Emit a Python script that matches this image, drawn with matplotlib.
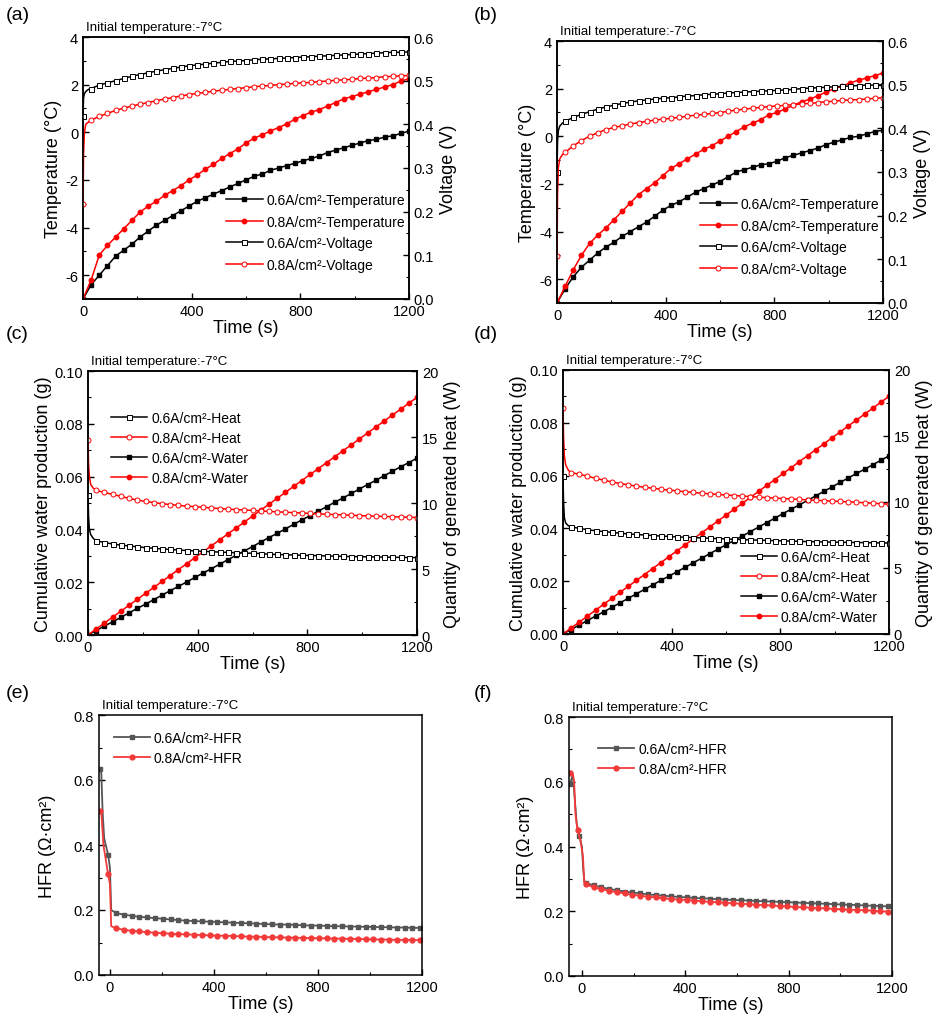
import matplotlib
matplotlib.use("Agg")
import matplotlib.pyplot as plt
from matplotlib.ticker import MultipleLocator

plt.rcParams['font.family'] = ['Liberation Sans', 'DejaVu Sans']
plt.rcParams['axes.unicode_minus'] = False

# ---------------- data ----------------
t30 = [0, 30, 60, 90, 120, 150, 180, 210, 240, 270, 300, 330, 360, 390, 420, 450, 480, 510, 540,
       570, 600, 630, 660, 690, 720, 750, 780, 810, 840, 870, 900, 930, 960, 990, 1020, 1050, 1080,
       1110, 1140, 1170, 1200]
t_fast = [0, 2, 5, 10, 20] + t30[1:]

# (a)
a_T06 = [-7.0, -6.4, -6.0, -5.6, -5.2, -4.95, -4.7, -4.4, -4.15, -3.9, -3.7, -3.5, -3.3, -3.1, -2.9,
         -2.75, -2.6, -2.45, -2.3, -2.15, -2.0, -1.85, -1.75, -1.6, -1.5, -1.4, -1.3, -1.2, -1.1, -1.0,
         -0.85, -0.75, -0.65, -0.55, -0.45, -0.35, -0.3, -0.2, -0.15, -0.05, 0.05]
a_T08 = [-7.0, -6.2, -5.15, -4.75, -4.4, -4.05, -3.7, -3.35, -3.1, -2.9, -2.65, -2.45, -2.25, -2.0,
         -1.8, -1.55, -1.35, -1.1, -0.9, -0.7, -0.45, -0.25, -0.1, 0.05, 0.2, 0.35, 0.55, 0.7, 0.85,
         0.95, 1.1, 1.25, 1.4, 1.5, 1.6, 1.7, 1.8, 1.9, 2.0, 2.15, 2.25]
a_V06 = [0.42, 0.46, 0.47, 0.475, 0.48, 0.482, 0.49, 0.495, 0.50, 0.505, 0.51, 0.514, 0.518, 0.522,
         0.525, 0.528, 0.531, 0.534, 0.536, 0.538, 0.540, 0.542, 0.544, 0.545, 0.546, 0.548, 0.549,
         0.550, 0.551, 0.552, 0.553, 0.554, 0.555, 0.556, 0.557, 0.558, 0.559, 0.560, 0.561, 0.562,
         0.563, 0.564, 0.565, 0.565, 0.566]
a_V08 = [0.217, 0.33, 0.38, 0.40, 0.405, 0.41, 0.418, 0.425, 0.432, 0.437, 0.442, 0.446, 0.450, 0.454,
         0.458, 0.461, 0.465, 0.468, 0.471, 0.473, 0.476, 0.478, 0.480, 0.482, 0.484, 0.486, 0.488,
         0.489, 0.491, 0.492, 0.494, 0.495, 0.496, 0.498, 0.499, 0.501, 0.502, 0.503, 0.505, 0.506,
         0.507, 0.509, 0.510, 0.511, 0.512]

# (b)
b_T06 = [-7.0, -6.4, -5.9, -5.5, -5.2, -4.9, -4.65, -4.45, -4.2, -4.0, -3.8, -3.6, -3.35, -3.1, -2.9,
         -2.75, -2.55, -2.35, -2.2, -2.05, -1.9, -1.7, -1.5, -1.4, -1.3, -1.2, -1.15, -1.05, -0.9, -0.8,
         -0.7, -0.6, -0.5, -0.35, -0.25, -0.15, -0.05, 0.0, 0.1, 0.2, 0.25]
b_T08 = [-7.0, -6.3, -5.6, -5.0, -4.5, -4.15, -3.85, -3.5, -3.15, -2.8, -2.45, -2.2, -1.95, -1.65,
         -1.35, -1.15, -0.95, -0.75, -0.55, -0.4, -0.2, 0.0, 0.2, 0.4, 0.55, 0.7, 0.9, 1.0, 1.15, 1.3,
         1.45, 1.55, 1.7, 1.85, 2.0, 2.1, 2.25, 2.35, 2.45, 2.55, 2.65]
b_V06 = [0.30, 0.37, 0.395, 0.405, 0.412, 0.416, 0.425, 0.432, 0.438, 0.444, 0.449, 0.453, 0.457,
         0.460, 0.463, 0.465, 0.467, 0.469, 0.470, 0.472, 0.474, 0.475, 0.477, 0.478, 0.479, 0.481,
         0.482, 0.483, 0.484, 0.485, 0.486, 0.487, 0.488, 0.489, 0.491, 0.492, 0.493, 0.494, 0.495,
         0.496, 0.497, 0.498, 0.499, 0.499, 0.500]
b_V08 = [0.107, 0.25, 0.31, 0.33, 0.34, 0.345, 0.36, 0.372, 0.382, 0.39, 0.397, 0.402, 0.406, 0.41,
         0.413, 0.416, 0.419, 0.421, 0.423, 0.425, 0.428, 0.430, 0.432, 0.434, 0.436, 0.439, 0.442,
         0.444, 0.446, 0.448, 0.450, 0.451, 0.453, 0.454, 0.456, 0.457, 0.459, 0.461, 0.462, 0.464,
         0.465, 0.466, 0.467, 0.469, 0.470]

# (c)
c_W06 = [0, 0.0017, 0.0034, 0.0050, 0.0067, 0.0084, 0.0101, 0.0117, 0.0134, 0.0151, 0.0168, 0.0184,
         0.0201, 0.0218, 0.0235, 0.0251, 0.0268, 0.0285, 0.0302, 0.0318, 0.0335, 0.0352, 0.0369,
         0.0385, 0.0402, 0.0419, 0.0436, 0.0452, 0.0469, 0.0486, 0.0503, 0.0519, 0.0536, 0.0553,
         0.0570, 0.0586, 0.0603, 0.0620, 0.0637, 0.0653, 0.0670]
c_W08 = [0, 0.0023, 0.0045, 0.0068, 0.0090, 0.0113, 0.0135, 0.0158, 0.0180, 0.0203, 0.0225, 0.0248,
         0.0270, 0.0293, 0.0315, 0.0338, 0.0360, 0.0383, 0.0405, 0.0428, 0.0450, 0.0473, 0.0495,
         0.0518, 0.0540, 0.0563, 0.0585, 0.0608, 0.0630, 0.0653, 0.0675, 0.0698, 0.0720, 0.0743,
         0.0765, 0.0788, 0.0810, 0.0833, 0.0855, 0.0878, 0.0900]
c_H06 = [10.6, 9.0, 8.0, 7.6, 7.3, 7.15, 7.0, 6.9, 6.8, 6.75, 6.68, 6.62, 6.57, 6.52, 6.48, 6.44, 6.4,
         6.37, 6.34, 6.31, 6.28, 6.26, 6.23, 6.21, 6.19, 6.17, 6.12, 6.10, 6.08, 6.06, 6.04, 6.02, 6.01,
         5.99, 5.97, 5.96, 5.94, 5.93, 5.92, 5.91, 5.90, 5.89, 5.88, 5.87, 5.86]
c_H08 = [14.8, 13.0, 12.0, 11.4, 11.1, 10.95, 10.8, 10.65, 10.5, 10.35, 10.22, 10.12, 10.03, 9.95,
         9.88, 9.82, 9.76, 9.72, 9.68, 9.62, 9.58, 9.54, 9.5, 9.47, 9.44, 9.4, 9.36, 9.33, 9.3, 9.27,
         9.24, 9.21, 9.18, 9.15, 9.12, 9.1, 9.07, 9.05, 9.02, 9.0, 8.98, 8.96, 8.94, 8.92, 8.9]

# (d)
d_W06 = [0, 0.0017, 0.0034, 0.0051, 0.0068, 0.0084, 0.0101, 0.0118, 0.0135, 0.0152, 0.0169, 0.0186,
         0.0203, 0.0219, 0.0236, 0.0253, 0.0270, 0.0287, 0.0304, 0.0321, 0.0338, 0.0354, 0.0371,
         0.0388, 0.0405, 0.0422, 0.0439, 0.0456, 0.0473, 0.0489, 0.0506, 0.0523, 0.0540, 0.0557,
         0.0574, 0.0591, 0.0608, 0.0624, 0.0641, 0.0658, 0.0675]
d_W08 = [0, 0.0023, 0.0045, 0.0068, 0.0090, 0.0113, 0.0135, 0.0158, 0.0180, 0.0203, 0.0225, 0.0248,
         0.0270, 0.0293, 0.0315, 0.0338, 0.0360, 0.0383, 0.0405, 0.0428, 0.0450, 0.0473, 0.0495,
         0.0518, 0.0540, 0.0563, 0.0585, 0.0608, 0.0630, 0.0653, 0.0675, 0.0698, 0.0720, 0.0743,
         0.0765, 0.0788, 0.0810, 0.0833, 0.0855, 0.0878, 0.0900]
d_H06 = [12.0, 10.0, 8.8, 8.4, 8.2, 8.12, 8.0, 7.9, 7.82, 7.76, 7.7, 7.64, 7.58, 7.54, 7.5, 7.46, 7.42,
         7.39, 7.36, 7.33, 7.3, 7.28, 7.25, 7.23, 7.2, 7.17, 7.15, 7.13, 7.11, 7.09, 7.07, 7.05, 7.04,
         7.02, 7.0, 6.99, 6.97, 6.96, 6.95, 6.94, 6.93, 6.92, 6.91, 6.9, 6.89]
d_H08 = [17.1, 15.0, 13.5, 12.8, 12.4, 12.23, 12.1, 11.95, 11.8, 11.65, 11.52, 11.4, 11.3, 11.2,
         11.12, 11.04, 10.97, 10.9, 10.84, 10.78, 10.72, 10.67, 10.62, 10.57, 10.53, 10.49, 10.45,
         10.41, 10.37, 10.33, 10.3, 10.26, 10.23, 10.2, 10.16, 10.13, 10.1, 10.07, 10.04, 10.01, 9.98,
         9.94, 9.91, 9.87, 9.83]

# (e)
e_t06 = [-37, -33, -28, -22, -7, 0, 5, 23, 53, 83, 113, 143, 173, 203, 233, 263, 293, 323, 353, 383,
         413, 443, 473, 503, 533, 563, 593, 623, 653, 683, 713, 743, 773, 803, 833, 863, 893, 923, 953,
         983, 1013, 1043, 1073, 1103, 1133, 1163, 1193]
e_H06 = [0.634, 0.62, 0.50, 0.42, 0.37, 0.33, 0.20, 0.191, 0.186, 0.182, 0.179, 0.177, 0.175, 0.173,
         0.171, 0.169, 0.167, 0.166, 0.165, 0.164, 0.163, 0.162, 0.161, 0.160, 0.159, 0.158, 0.157,
         0.156, 0.155, 0.155, 0.154, 0.153, 0.152, 0.152, 0.151, 0.150, 0.150, 0.149, 0.149, 0.148,
         0.148, 0.147, 0.147, 0.146, 0.146, 0.145, 0.145]
e_t08 = [-37, -33, -25, -7, 0, 5, 23, 53, 83, 113, 143, 173, 203, 233, 263, 293, 323, 353, 383, 413,
         443, 473, 503, 533, 563, 593, 623, 653, 683, 713, 743, 773, 803, 833, 863, 893, 923, 953, 983,
         1013, 1043, 1073, 1103, 1133, 1163, 1193]
e_H08 = [0.506, 0.50, 0.40, 0.31, 0.28, 0.15, 0.144, 0.139, 0.136, 0.134, 0.132, 0.130, 0.129, 0.127,
         0.126, 0.125, 0.124, 0.123, 0.122, 0.121, 0.121, 0.120, 0.119, 0.118, 0.118, 0.117, 0.116,
         0.116, 0.115, 0.115, 0.114, 0.114, 0.113, 0.113, 0.112, 0.112, 0.111, 0.111, 0.110, 0.110,
         0.109, 0.109, 0.108, 0.108, 0.108, 0.107]

# (f)
f_t06 = [-45, -40, -35, -28, -20, -10, 0, 5, 10, 15, 45, 75, 105, 135, 165, 195, 225, 255, 285, 315,
         345, 375, 405, 435, 465, 495, 525, 555, 585, 615, 645, 675, 705, 735, 765, 795, 825, 855, 885,
         915, 945, 975, 1005, 1035, 1065, 1095, 1125, 1155, 1185]
f_H06 = [0.592, 0.61, 0.62, 0.55, 0.47, 0.433, 0.40, 0.33, 0.29, 0.288, 0.280, 0.274, 0.269, 0.265,
         0.261, 0.258, 0.255, 0.252, 0.250, 0.248, 0.246, 0.244, 0.243, 0.241, 0.240, 0.239, 0.237,
         0.236, 0.235, 0.234, 0.233, 0.232, 0.231, 0.230, 0.229, 0.228, 0.227, 0.226, 0.225, 0.224,
         0.223, 0.222, 0.221, 0.220, 0.219, 0.218, 0.217, 0.216, 0.215]
f_t08 = [-45, -40, -35, -30, -25, -17, -6, 4, 9, 15, 45, 75, 105, 135, 165, 195, 225, 255, 285, 315,
         345, 375, 405, 435, 465, 495, 525, 555, 585, 615, 645, 675, 705, 735, 765, 795, 825, 855, 885,
         915, 945, 975, 1005, 1035, 1065, 1095, 1125, 1155, 1185]
f_H08 = [0.628, 0.632, 0.625, 0.60, 0.50, 0.45, 0.42, 0.37, 0.29, 0.283, 0.274, 0.268, 0.263, 0.259,
         0.255, 0.251, 0.248, 0.245, 0.243, 0.240, 0.238, 0.236, 0.235, 0.233, 0.231, 0.229, 0.228,
         0.226, 0.225, 0.223, 0.222, 0.220, 0.219, 0.218, 0.216, 0.215, 0.213, 0.212, 0.211, 0.210,
         0.209, 0.207, 0.206, 0.205, 0.204, 0.203, 0.202, 0.200, 0.199]

lab06 = '0.6A/cm\u00b2'
lab08 = '0.8A/cm\u00b2'
init_text = 'Initial temperature:-7\u00b0C'

# ---------------- layout ----------------
W, H = 939, 1020
fig = plt.figure(figsize=(W / 100, H / 100), dpi=100)


def rect(l, t, r, b):
    return [l / W, 1 - b / H, (r - l) / W, (b - t) / H]


RED = '#ff0000'
BLK = '#000000'
TICK_FS = 10.5
LAB_FS = 13
LEG_FS = 10
LW = 1.1
MS = 3.2


def style(ax, right=False):
    for s in ax.spines.values():
        s.set_linewidth(1.1)
    ax.tick_params(which='both', direction='in', labelsize=TICK_FS, top=False,
                   right=False, left=not right)
    if right:
        ax.tick_params(which='both', right=True, left=False, labelright=True, labelleft=False)
    ax.tick_params(which='major', length=4, width=1)
    ax.tick_params(which='minor', length=2.5, width=0.8)


def fast_marks(n):
    return [0] + list(range(5, n))


def temp_panel(l, t, r, b, T06, T08, V06, V08, leg_anchor):
    ax = fig.add_axes(rect(l, t, r, b))
    ax2 = ax.twinx()
    h1, = ax.plot(t30, T06, color=BLK, lw=LW, marker='s', ms=MS, mfc=BLK, mec=BLK)
    h2, = ax.plot(t30, T08, color=RED, lw=LW, marker='o', ms=MS, mfc=RED, mec=RED)
    h3, = ax2.plot(t_fast, V06, color=BLK, lw=LW, marker='s', ms=MS + 0.4, mfc='white', mec=BLK,
                   mew=0.7, markevery=fast_marks(len(t_fast)))
    h4, = ax2.plot(t_fast, V08, color=RED, lw=LW, marker='o', ms=MS + 0.4, mfc='white', mec=RED,
                   mew=0.7, markevery=fast_marks(len(t_fast)))
    ax.set_xlim(0, 1200)
    ax.set_ylim(-7, 4)
    ax2.set_ylim(0, 0.6)
    ax.xaxis.set_major_locator(MultipleLocator(400))
    ax.xaxis.set_minor_locator(MultipleLocator(200))
    ax.yaxis.set_major_locator(MultipleLocator(2))
    ax.yaxis.set_minor_locator(MultipleLocator(1))
    ax2.yaxis.set_major_locator(MultipleLocator(0.1))
    ax2.yaxis.set_minor_locator(MultipleLocator(0.05))
    style(ax)
    style(ax2, right=True)
    ax.set_xlabel('Time (s)', fontsize=LAB_FS, labelpad=1)
    ax.set_ylabel('Temperature (\u00b0C)', fontsize=LAB_FS, labelpad=2)
    ax2.set_ylabel('Voltage (V)', fontsize=LAB_FS, labelpad=4)
    ax2.legend([h1, h2, h3, h4],
               [lab06 + '-Temperature', lab08 + '-Temperature', lab06 + '-Voltage', lab08 + '-Voltage'],
               loc='upper left', bbox_to_anchor=leg_anchor, frameon=False, fontsize=LEG_FS,
               handlelength=2.6, handletextpad=0.3, labelspacing=0.55, borderpad=0, borderaxespad=0)
    return ax


def water_panel(l, t, r, b, W06, W08, H06, H08, leg_anchor):
    ax = fig.add_axes(rect(l, t, r, b))
    ax2 = ax.twinx()
    h3, = ax.plot(t30, W06, color=BLK, lw=LW, marker='s', ms=MS, mfc=BLK, mec=BLK)
    h4, = ax.plot(t30, W08, color=RED, lw=LW, marker='o', ms=MS, mfc=RED, mec=RED)
    h1, = ax2.plot(t_fast, H06, color=BLK, lw=LW, marker='s', ms=MS + 0.4, mfc='white', mec=BLK,
                   mew=0.7, markevery=fast_marks(len(t_fast)))
    h2, = ax2.plot(t_fast, H08, color=RED, lw=LW, marker='o', ms=MS + 0.4, mfc='white', mec=RED,
                   mew=0.7, markevery=fast_marks(len(t_fast)))
    ax.set_xlim(0, 1200)
    ax.set_ylim(0, 0.1)
    ax2.set_ylim(0, 20)
    ax.xaxis.set_major_locator(MultipleLocator(400))
    ax.xaxis.set_minor_locator(MultipleLocator(200))
    ax.yaxis.set_major_locator(MultipleLocator(0.02))
    ax.yaxis.set_minor_locator(MultipleLocator(0.01))
    ax2.yaxis.set_major_locator(MultipleLocator(5))
    ax2.yaxis.set_minor_locator(MultipleLocator(2.5))
    style(ax)
    style(ax2, right=True)
    ax.set_xlabel('Time (s)', fontsize=LAB_FS, labelpad=1)
    ax.set_ylabel('Cumulative water production (g)', fontsize=LAB_FS, labelpad=2)
    ax2.set_ylabel('Quantity of generated heat (W)', fontsize=LAB_FS, labelpad=4)
    ax2.legend([h1, h2, h3, h4],
               [lab06 + '-Heat', lab08 + '-Heat', lab06 + '-Water', lab08 + '-Water'],
               loc='upper left', bbox_to_anchor=leg_anchor, frameon=False, fontsize=LEG_FS,
               handlelength=2.6, handletextpad=0.3, labelspacing=0.45, borderpad=0, borderaxespad=0)
    return ax


def hfr_panel(l, t, r, b, t06, H06, m06, t08, H08, m08, xmin, leg_anchor, ypad):
    ax = fig.add_axes(rect(l, t, r, b))
    GR = '#555555'
    RD = '#f23a3a'
    h1, = ax.plot(t06, H06, color=GR, lw=LW + 0.2, marker='s', ms=MS + 0.3, mfc=GR, mec=GR,
                  markevery=m06)
    h2, = ax.plot(t08, H08, color=RD, lw=LW + 0.2, marker='o', ms=MS + 0.3, mfc=RD, mec=RD,
                  markevery=m08)
    ax.set_xlim(xmin, 1200)
    ax.set_ylim(0, 0.8)
    ax.xaxis.set_major_locator(MultipleLocator(400))
    ax.xaxis.set_minor_locator(MultipleLocator(200))
    ax.yaxis.set_major_locator(MultipleLocator(0.2))
    ax.yaxis.set_minor_locator(MultipleLocator(0.1))
    style(ax)
    ax.set_xlabel('Time (s)', fontsize=LAB_FS, labelpad=1)
    ax.set_ylabel('HFR (\u03a9\u00b7cm\u00b2)', fontsize=LAB_FS, labelpad=ypad)
    ax.legend([h1, h2], [lab06 + '-HFR', lab08 + '-HFR'], loc='upper left',
              bbox_to_anchor=leg_anchor, frameon=False, fontsize=LEG_FS, handlelength=2.6,
              handletextpad=0.3, labelspacing=0.45, borderpad=0, borderaxespad=0)
    return ax


axa = temp_panel(83, 38, 409, 300, a_T06, a_T08, a_V06, a_V08, (0.44, 0.405))
axb = temp_panel(557, 42, 883, 304, b_T06, b_T08, b_V06, b_V08, (0.44, 0.405))
axc = water_panel(88, 372, 417, 636, c_W06, c_W08, c_H06, c_H08, (0.07, 0.85))
axd = water_panel(563, 371, 889, 635, d_W06, d_W08, d_H06, d_H08, (0.545, 0.32))
axe = hfr_panel(99, 716, 422, 976, e_t06, e_H06, [0, 4] + list(range(7, len(e_t06))),
                e_t08, e_H08, [0, 3] + list(range(6, len(e_t08))), -42, (0.045, 0.94), 13)
axf = hfr_panel(569, 718, 892, 977, f_t06, f_H06, [0, 5] + list(range(9, len(f_t06))),
                f_t08, f_H08, [0, 5] + list(range(9, len(f_t08))), -50, (0.09, 0.905), 7)

for ax in (axa, axb, axc, axd, axe, axf):
    ax.text(0.01, 1.015, init_text, transform=ax.transAxes, fontsize=9.5, ha='left', va='bottom')

for lbl, x, y in (('(a)', 6, 16), ('(b)', 474, 16), ('(c)', 6, 335), ('(d)', 474, 335),
                  ('(e)', 6, 693), ('(f)', 474, 693)):
    fig.text(x / W, 1 - y / H, lbl, fontsize=14, ha='left', va='center')

fig.savefig('out.png', dpi=100)
